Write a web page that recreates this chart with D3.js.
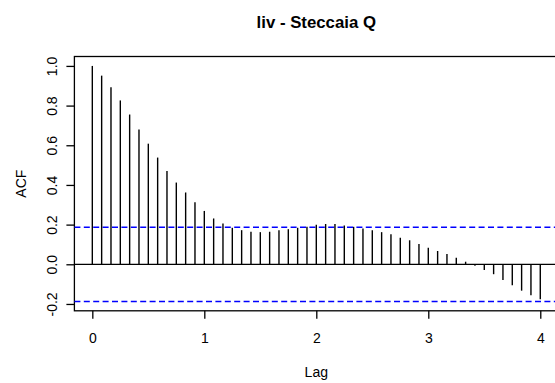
<!DOCTYPE html>
<html>
<head>
<meta charset="utf-8">
<script src="https://cdn.jsdelivr.net/npm/d3@7"></script>
<style>
  html, body { margin: 0; padding: 0; background: #fff; }
  svg { display: block; font-family: "Liberation Sans", Arial, sans-serif; }
</style>
</head>
<body>
<svg id="chart" width="555" height="383"></svg>
<script>
// Autocorrelation of the monthly series, lags 0..48 (frequency 12)
const frequency = 12;
const acfValues = [
  1.000, 0.951, 0.893, 0.826, 0.755, 0.680, 0.608, 0.538, 0.470, 0.412,
  0.362, 0.313, 0.269, 0.231, 0.206, 0.184, 0.172, 0.164, 0.162, 0.164,
  0.171, 0.177, 0.184, 0.189, 0.199, 0.203, 0.203, 0.196, 0.189, 0.181,
  0.172, 0.162, 0.151, 0.134, 0.121, 0.102, 0.083, 0.067, 0.052, 0.033,
  0.013, -0.008, -0.029, -0.050, -0.079, -0.106, -0.133, -0.156, -0.176
];
// 95% confidence bound
const confLimit = 0.187;
const xTicks = [0, 1, 2, 3, 4];
const yTicks = [-0.2, 0.0, 0.2, 0.4, 0.6, 0.8, 1.0];
const titleText = "liv - Steccaia Q";
const xLabel = "Lag";
const yLabel = "ACF";

const data = acfValues.map((v, i) => ({ lag: i / frequency, acf: v }));

const svg = d3.select("#chart");
const box = { left: 74.4, right: 558.2, top: 56.5, bottom: 310.8 };

// R-style 4% axis expansion
const xMin = 0, xMax = d3.max(data, d => d.lag);
const yMin = Math.min(-confLimit, d3.min(acfValues)), yMax = Math.max(confLimit, d3.max(acfValues));
const xPad = (xMax - xMin) * 0.04, yPad = (yMax - yMin) * 0.04;

const x = d3.scaleLinear().domain([xMin - xPad, xMax + xPad]).range([box.left, box.right]);
const y = d3.scaleLinear().domain([yMin - yPad, yMax + yPad]).range([box.bottom, box.top]);

const fontSize = 14;

// Plot frame
svg.append("rect")
  .attr("x", box.left).attr("y", box.top)
  .attr("width", box.right - box.left).attr("height", box.bottom - box.top)
  .attr("fill", "none").attr("stroke", "#000").attr("stroke-width", 1.3);

// Zero line
svg.append("line")
  .attr("x1", box.left).attr("x2", box.right)
  .attr("y1", y(0)).attr("y2", y(0))
  .attr("stroke", "#000").attr("stroke-width", 1.3);

// Confidence bounds
svg.selectAll("line.ci").data([confLimit, -confLimit]).enter().append("line")
  .attr("class", "ci")
  .attr("x1", box.left).attr("x2", box.right)
  .attr("y1", d => y(d)).attr("y2", d => y(d))
  .attr("stroke", "#0000ff").attr("stroke-width", 1.5)
  .attr("stroke-dasharray", "6,3.4");

// ACF spikes
svg.selectAll("line.spike").data(data).enter().append("line")
  .attr("class", "spike")
  .attr("x1", d => x(d.lag)).attr("x2", d => x(d.lag))
  .attr("y1", y(0)).attr("y2", d => y(d.acf))
  .attr("stroke", "#000").attr("stroke-width", 1.4);

// Bottom axis
const xAxis = svg.append("g")
  .attr("transform", `translate(0,${box.bottom})`)
  .call(d3.axisBottom(x).tickValues(xTicks).tickFormat(d3.format("d")).tickSize(8).tickSizeOuter(0));
xAxis.select(".domain").remove();
xAxis.selectAll(".tick line").attr("stroke", "#000").attr("stroke-width", 1.3);
xAxis.selectAll(".tick text")
  .attr("y", 32).attr("dy", null)
  .attr("fill", "#000")
  .style("font-size", fontSize + "px")
  .style("font-family", "'Liberation Sans', Arial, sans-serif");

// Left axis with rotated labels
const yAxis = svg.append("g")
  .attr("transform", `translate(${box.left},0)`)
  .call(d3.axisLeft(y).tickValues(yTicks).tickFormat(d3.format(".1f")).tickSize(8).tickSizeOuter(0));
yAxis.select(".domain").remove();
yAxis.selectAll(".tick line").attr("stroke", "#000").attr("stroke-width", 1.3);
yAxis.selectAll(".tick text")
  .attr("x", 0).attr("y", -17.4).attr("dy", null)
  .attr("transform", "rotate(-90)")
  .attr("text-anchor", "middle")
  .attr("fill", "#000")
  .text(d => d3.format(".1f")(d).replace("−", "-"))
  .style("font-size", fontSize + "px")
  .style("font-family", "'Liberation Sans', Arial, sans-serif");

// Axis titles
svg.append("text")
  .attr("x", (box.left + box.right) / 2).attr("y", 376.5)
  .attr("text-anchor", "middle")
  .style("font-size", fontSize + "px")
  .text(xLabel);

svg.append("text")
  .attr("transform", `translate(25.5,${(box.top + box.bottom) / 2}) rotate(-90)`)
  .attr("text-anchor", "middle")
  .style("font-size", fontSize + "px")
  .text(yLabel);

// Main title
svg.append("text")
  .attr("x", (box.left + box.right) / 2).attr("y", 28)
  .attr("text-anchor", "middle")
  .style("font-size", "16.8px")
  .style("font-weight", "bold")
  .text(titleText);
</script>
</body>
</html>
